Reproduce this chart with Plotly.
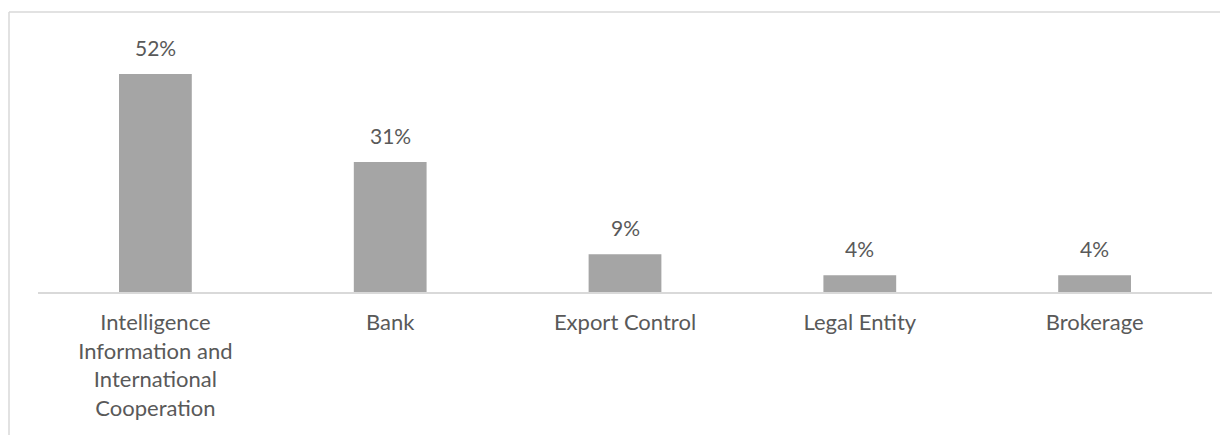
import plotly.graph_objects as go

categories = ["Intelligence Information and International Cooperation", "Bank",
              "Export Control", "Legal Entity", "Brokerage"]
tick_labels = ["Intelligence<br>Information and<br>International<br>Cooperation", "Bank",
               "Export Control", "Legal Entity", "Brokerage"]
shares = [52, 31, 9, 4, 4]
value_labels = [f"{v}%" for v in shares]

# page body has an 8px default margin, so the figure sits at (8, 8)
W, H = 1220, 427
ML, MR, MT, MB = 30, 16, 12, 143
FONT = "Lato"
TXT = "#595959"

fig = go.Figure(go.Bar(
    x=categories, y=shares,
    marker=dict(color="#a5a5a5", line=dict(width=0)),
    width=0.31,
    hoverinfo="skip",
))

for c, v, t in zip(categories, shares, value_labels):
    fig.add_annotation(x=c, y=v, text=t, showarrow=False, yanchor="bottom",
                       yshift=12, font=dict(family=FONT, size=21, color=TXT))

PW = W - ML - MR
PH = H - MT - MB
fx = lambda px: (px - ML) / PW
fy = lambda py: (H - MB - py) / PH

fig.update_layout(
    width=W, height=H,
    margin=dict(l=ML, r=MR, t=MT, b=MB),
    paper_bgcolor="white", plot_bgcolor="white",
    showlegend=False,
    xaxis=dict(
        tickmode="array", tickvals=categories, ticktext=tick_labels,
        showline=True, linecolor="#d9d9d9", linewidth=1.5,
        showgrid=False, ticks="", zeroline=False,
        ticklabelstandoff=10,
        tickfont=dict(family=FONT, size=22, color=TXT),
    ),
    yaxis=dict(range=[0, 64.9], visible=False, showgrid=False, zeroline=False),
    shapes=[
        dict(type="line", xref="paper", yref="paper",
             x0=fx(1), x1=fx(W + 10), y0=fy(4), y1=fy(4),
             line=dict(color="#d9d9d9", width=1.5)),
        dict(type="line", xref="paper", yref="paper",
             x0=fx(1), x1=fx(1), y0=fy(4), y1=fy(H + 10),
             line=dict(color="#d9d9d9", width=1.5)),
    ],
)

fig.write_html("out.html")
